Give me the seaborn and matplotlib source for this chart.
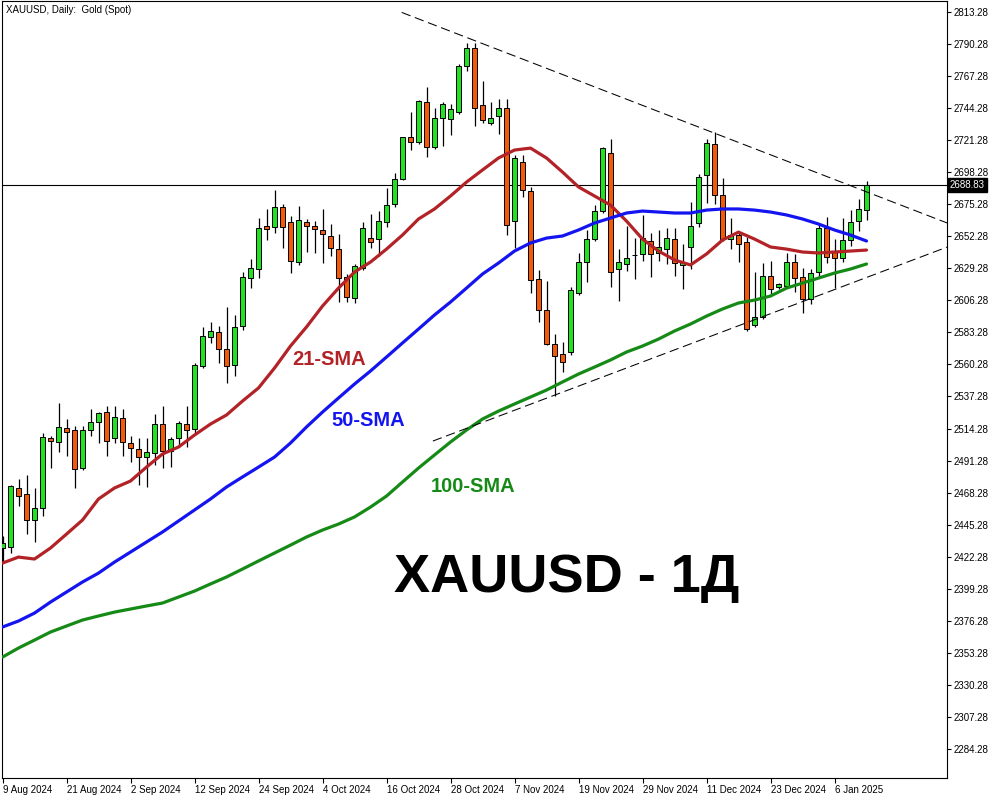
import numpy as np
import pandas as pd
import matplotlib
matplotlib.use("Agg")
import matplotlib.pyplot as plt
import matplotlib.transforms as mtransforms
import seaborn as sns

# ---------------- data ----------------
sessions = pd.bdate_range("2024-08-09", "2025-01-10")
sessions = sessions[~sessions.isin(pd.to_datetime(["2024-12-25", "2025-01-01"]))]

open_ = [2428.5, 2429.2, 2471.6, 2467.3, 2448.6, 2457.2, 2507.5, 2504.6, 2514.6, 2513.2,
         2485.9, 2513.2, 2519.0, 2526.1, 2507.5, 2521.8, 2503.9, 2499.6, 2493.8, 2496.7,
         2517.5, 2498.1, 2507.5, 2517.5, 2513.9, 2559.2, 2580.0, 2583.5, 2571.4, 2559.9,
         2587.9, 2622.3, 2628.8, 2659.7, 2658.9, 2673.3, 2662.5, 2633.8, 2662.5, 2659.7,
         2656.8, 2652.5, 2643.1, 2623.0, 2607.9, 2629.5, 2651.0, 2650.3, 2662.5, 2675.5,
         2693.4, 2723.5, 2719.9, 2748.7, 2716.4, 2737.2, 2736.5, 2741.5, 2774.5, 2787.4,
         2746.5, 2733.6, 2738.6, 2744.4, 2663.2, 2705.6, 2684.8, 2621.6, 2599.3, 2574.9,
         2567.8, 2569.2, 2611.6, 2633.8, 2650.3, 2670.4, 2712.1, 2628.8, 2632.4, 2638.5,
         2639.6, 2648.9, 2640.3, 2643.1, 2650.3, 2631.6, 2644.6, 2661.8, 2696.3, 2718.5,
         2681.9, 2650.3, 2653.2, 2648.2, 2588.6, 2594.3, 2623.8, 2615.9, 2616.6, 2633.8,
         2623.0, 2607.2, 2626.6, 2658.2, 2641.0, 2636.7, 2649.6, 2663.2, 2671.1]
high = [2437.0, 2473.7, 2478.0, 2480.9, 2471.6, 2511.1, 2508.9, 2532.6, 2521.1, 2516.1,
        2516.1, 2528.3, 2526.1, 2530.4, 2530.4, 2528.3, 2508.9, 2507.5, 2507.5, 2524.7,
        2530.4, 2508.2, 2519.6, 2530.4, 2561.3, 2587.2, 2590.7, 2587.9, 2601.5, 2595.8,
        2626.6, 2636.0, 2665.4, 2671.9, 2685.5, 2675.5, 2666.8, 2674.0, 2664.7, 2663.2,
        2671.9, 2661.1, 2653.9, 2625.2, 2632.4, 2662.5, 2668.3, 2670.4, 2686.9, 2697.7,
        2723.5, 2741.5, 2750.1, 2759.4, 2744.4, 2748.7, 2747.2, 2775.9, 2791.0, 2791.0,
        2763.7, 2748.7, 2750.8, 2750.8, 2710.6, 2710.6, 2687.6, 2628.1, 2620.2, 2582.1,
        2576.4, 2615.9, 2640.3, 2656.8, 2674.7, 2716.4, 2722.1, 2643.1, 2659.7, 2651.0,
        2667.6, 2654.6, 2656.8, 2658.2, 2658.2, 2646.7, 2676.9, 2697.0, 2722.1, 2727.1,
        2694.1, 2665.4, 2654.6, 2651.8, 2626.6, 2633.1, 2634.5, 2618.7, 2640.3, 2639.6,
        2629.5, 2628.8, 2661.1, 2666.1, 2650.3, 2665.4, 2671.1, 2679.0, 2692.0]
low = [2418.0, 2424.9, 2458.6, 2438.5, 2432.8, 2451.5, 2485.9, 2497.4, 2494.5, 2471.6,
       2484.5, 2508.9, 2503.9, 2494.5, 2503.9, 2494.5, 2490.2, 2473.7, 2472.3, 2488.1,
       2485.9, 2486.6, 2501.0, 2501.0, 2511.1, 2557.7, 2575.7, 2561.3, 2546.9, 2552.0,
       2585.0, 2615.1, 2622.3, 2649.6, 2654.6, 2643.9, 2625.9, 2632.0, 2641.0, 2640.3,
       2633.1, 2638.1, 2605.1, 2605.1, 2604.4, 2628.1, 2643.9, 2638.1, 2658.9, 2673.3,
       2692.7, 2714.2, 2718.5, 2709.2, 2715.0, 2717.1, 2725.0, 2740.1, 2770.9, 2731.4,
       2733.6, 2732.2, 2725.7, 2653.2, 2643.9, 2680.5, 2611.6, 2590.7, 2574.2, 2537.6,
       2554.8, 2567.0, 2610.0, 2619.5, 2648.9, 2669.0, 2615.9, 2605.8, 2627.3, 2621.6,
       2634.5, 2623.0, 2634.5, 2632.4, 2623.8, 2614.4, 2628.8, 2658.9, 2676.2, 2675.5,
       2648.9, 2643.1, 2633.8, 2584.5, 2587.2, 2593.0, 2610.1, 2614.4, 2615.9, 2612.3,
       2597.2, 2603.7, 2623.0, 2633.1, 2615.1, 2633.8, 2645.3, 2656.1, 2663.9]
close = [2432.0, 2473.0, 2465.8, 2448.6, 2457.2, 2508.2, 2505.3, 2515.4, 2511.8, 2485.2,
         2513.2, 2519.0, 2525.4, 2505.3, 2522.5, 2504.6, 2500.3, 2493.8, 2497.4, 2517.5,
         2498.1, 2506.8, 2518.2, 2513.2, 2559.9, 2580.7, 2584.3, 2571.4, 2559.2, 2587.2,
         2623.0, 2629.5, 2658.2, 2657.5, 2673.3, 2658.9, 2634.5, 2663.9, 2659.7, 2657.5,
         2653.9, 2643.9, 2622.3, 2608.7, 2630.9, 2658.2, 2648.2, 2663.2, 2674.7, 2693.4,
         2723.5, 2719.9, 2749.4, 2716.4, 2737.2, 2747.2, 2743.6, 2774.5, 2787.4, 2744.4,
         2735.8, 2737.2, 2744.4, 2660.4, 2708.5, 2685.5, 2620.9, 2599.3, 2574.9, 2566.3,
         2562.0, 2613.7, 2633.8, 2650.3, 2670.4, 2715.6, 2626.6, 2633.8, 2636.7, 2639.2,
         2651.0, 2639.6, 2644.6, 2651.0, 2633.1, 2633.8, 2659.7, 2694.8, 2719.2, 2681.9,
         2650.3, 2653.2, 2646.7, 2585.7, 2594.3, 2623.8, 2614.4, 2618.0, 2633.8, 2622.3,
         2607.2, 2625.9, 2658.2, 2637.4, 2636.7, 2649.6, 2662.5, 2671.9, 2688.83]

# moving averages read every 2nd session
sma21 = [2417.7, 2422.0, 2420.6, 2428.5, 2438.5, 2448.6, 2463.7, 2471.6, 2476.6, 2486.6,
         2496.0, 2501.0, 2509.6, 2517.5, 2524.0, 2534.0, 2543.4, 2557.7, 2573.5, 2587.2,
         2602.2, 2615.1, 2626.6, 2633.8, 2643.1, 2653.2, 2664.7, 2671.9, 2681.2, 2691.2,
         2699.9, 2708.5, 2714.2, 2715.6, 2708.5, 2698.4, 2687.7, 2681.2, 2674.7, 2663.2,
         2650.3, 2641.7, 2635.3, 2631.7, 2639.6, 2649.6, 2655.3, 2650.3, 2644.6, 2643.1,
         2641.0, 2640.3, 2641.0, 2641.7, 2642.4]
sma50 = [2371.8, 2376.1, 2381.8, 2389.7, 2396.9, 2404.1, 2410.5, 2418.4, 2425.6, 2432.8,
         2440.0, 2447.9, 2455.8, 2463.7, 2472.3, 2479.5, 2486.6, 2493.8, 2503.9, 2515.4,
         2526.1, 2536.2, 2546.2, 2555.6, 2565.6, 2575.7, 2585.7, 2595.8, 2605.1, 2615.1,
         2625.2, 2633.1, 2641.7, 2647.5, 2651.0, 2652.5, 2656.8, 2661.8, 2665.4, 2669.0,
         2670.4, 2669.7, 2669.0, 2669.0, 2671.1, 2671.9, 2671.9, 2671.1, 2669.7, 2667.6,
         2664.7, 2661.1, 2656.8, 2653.2, 2648.9]
sma100 = [2350.2, 2356.7, 2362.4, 2368.2, 2372.5, 2376.8, 2379.7, 2382.5, 2384.7, 2386.9,
          2389.0, 2393.3, 2397.6, 2402.7, 2407.7, 2413.4, 2419.2, 2424.9, 2430.6, 2436.4,
          2441.4, 2445.7, 2450.8, 2457.9, 2465.8, 2475.9, 2485.9, 2495.3, 2504.6, 2513.2,
          2521.1, 2526.8, 2531.9, 2536.9, 2541.9, 2547.7, 2553.4, 2558.4, 2563.5, 2569.2,
          2573.5, 2578.5, 2584.3, 2589.3, 2595.0, 2600.1, 2604.4, 2606.5, 2609.4, 2615.1,
          2618.7, 2622.3, 2625.9, 2628.8, 2632.4]
sma_step = 2

# trend lines: (session index, price) anchors
upper_trend_bar = [49.9, 118.1]
upper_trend_price = [2813.0, 2661.8]
lower_trend_bar = [53.8, 118.1]
lower_trend_price = [2505.3, 2644.6]

last_price = 2688.83
price_ticks = [2284.28 + 23 * k for k in range(24)]
date_tick_labels = ["9 Aug 2024", "21 Aug 2024", "2 Sep 2024", "12 Sep 2024", "24 Sep 2024",
                    "4 Oct 2024", "16 Oct 2024", "28 Oct 2024", "7 Nov 2024", "19 Nov 2024",
                    "29 Nov 2024", "11 Dec 2024", "23 Dec 2024", "6 Jan 2025"]

# ---------------- style ----------------
sns.set_theme(style="white")
plt.rcParams["font.family"] = ["Liberation Sans", "DejaVu Sans"]

UP = "#22E022"
DOWN = "#F25A0A"
RED = "#B22226"
BLUE = "#1414F0"
GREEN = "#168A16"

fig = plt.figure(figsize=(10, 8), dpi=100)
fig.patch.set_facecolor("white")
ax = fig.add_axes([0.002, 0.0275, 0.945, 0.97125])
ax.set_facecolor("white")

df = pd.DataFrame({"date": sessions, "open": open_, "high": high, "low": low, "close": close})
df["pos"] = np.arange(len(df))
o = df["open"].to_numpy(); c = df["close"].to_numpy()
up = c >= o
body_lo = np.minimum(o, c)
body_h = np.maximum(np.abs(c - o), 0.7)

ax.axhline(last_price, color="black", linewidth=0.8, zorder=1)

ax.vlines(df["pos"], df["low"], df["high"], color="black", linewidth=0.9, zorder=2)
ax.bar(df["pos"][up], body_h[up], bottom=body_lo[up], width=0.6, color=UP,
       edgecolor="black", linewidth=0.7, zorder=3)
ax.bar(df["pos"][~up], body_h[~up], bottom=body_lo[~up], width=0.6, color=DOWN,
       edgecolor="black", linewidth=0.7, zorder=3)

sma_pos = df["pos"].to_numpy()[::sma_step]
sma_df = pd.DataFrame({"pos": np.concatenate([sma_pos] * 3),
                       "value": sma21 + sma50 + sma100,
                       "line": ["21"] * len(sma21) + ["50"] * len(sma50) + ["100"] * len(sma100)})
sns.lineplot(data=sma_df, x="pos", y="value", hue="line",
             palette={"21": RED, "50": BLUE, "100": GREEN},
             linewidth=2.3, legend=False, ax=ax, zorder=4, sort=False, estimator=None)

dash = (0, (9, 4.5))
ax.plot(upper_trend_bar, upper_trend_price, color="black", linewidth=0.75, linestyle=dash, zorder=5)
ax.plot(lower_trend_bar, lower_trend_price, color="black", linewidth=0.75, linestyle=dash, zorder=5)

ax.set_xlim(-0.0625, 118.06)
ax.set_ylim(2263.4, 2821.2)

# axes styling
for s in ax.spines.values():
    s.set_color("black")
    s.set_linewidth(0.8)
ax.yaxis.tick_right()
ax.set_yticks(price_ticks)
ax.set_yticklabels([f"{v:.2f}" for v in price_ticks])
tick_pos = [int(np.where(df["date"] == pd.to_datetime(l, format="%d %b %Y"))[0][0]) for l in date_tick_labels]
ax.set_xticks(tick_pos)
ax.set_xticklabels(date_tick_labels, ha="left")
ax.tick_params(axis="y", direction="out", length=3, width=0.8, pad=1.5, labelsize=7,
               colors="black", right=True, left=False)
ax.tick_params(axis="x", direction="out", length=3.5, width=0.8, pad=1.5, labelsize=7,
               colors="black", bottom=True)
for lbl in ax.get_xticklabels():
    lbl.set_horizontalalignment("left")
ax.set_xlabel("")
ax.set_ylabel("")
ax.grid(False)

# last price tag
trans = mtransforms.blended_transform_factory(ax.transAxes, ax.transData)
ax.text(1.003, last_price, f"{last_price:.2f}", transform=trans, ha="left", va="center",
        fontsize=7, color="white", zorder=10, clip_on=False,
        bbox=dict(boxstyle="square,pad=0.2", facecolor="black", edgecolor="black"))

ax.text(0.0045, 0.9846, "XAUUSD, Daily:  Gold (Spot)", transform=ax.transAxes,
        ha="left", va="baseline", fontsize=7, color="black")

ax.text(0.346, 0.5315, "21-SMA", transform=ax.transAxes, ha="center", va="baseline",
        fontsize=14.5, fontweight="bold", color=RED)
ax.text(0.388, 0.453, "50-SMA", transform=ax.transAxes, ha="center", va="baseline",
        fontsize=14.5, fontweight="bold", color=BLUE)
ax.text(0.498, 0.368, "100-SMA", transform=ax.transAxes, ha="center", va="baseline",
        fontsize=14.5, fontweight="bold", color=GREEN)
ax.text(0.598, 0.2394, "XAUUSD - 1Д", transform=ax.transAxes, ha="center", va="baseline",
        fontsize=39, fontweight="bold", color="black")

fig.savefig("out.png", dpi=100)
